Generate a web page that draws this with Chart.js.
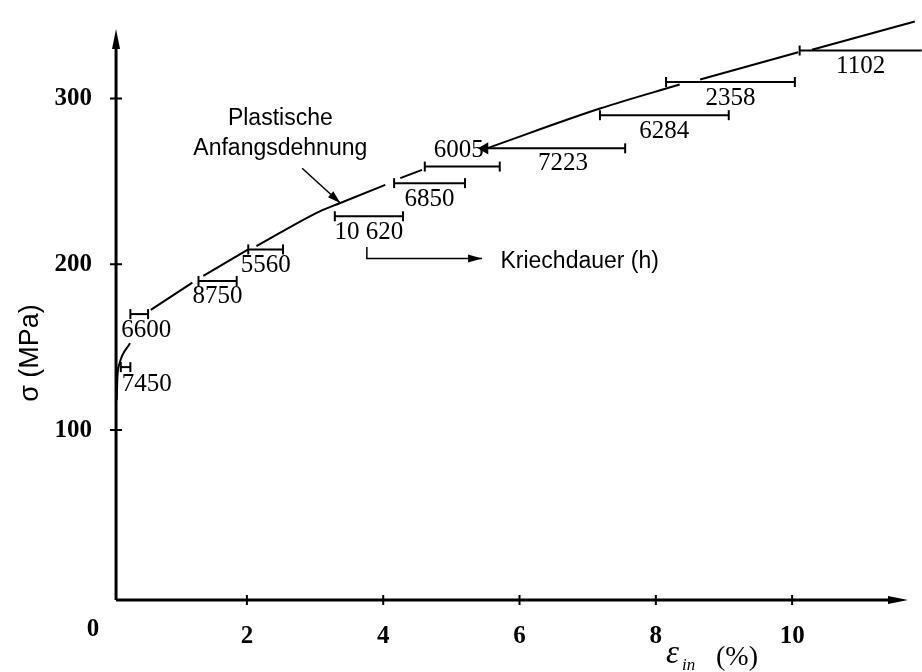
<!DOCTYPE html>
<html>
<head>
<meta charset="utf-8">
<script src="https://cdn.jsdelivr.net/npm/chart.js@4.4.1/dist/chart.umd.min.js"></script>
<style>
  html, body { margin: 0; padding: 0; background: #fff; }
</style>
</head>
<body>
<canvas id="creep-chart" width="922" height="672"></canvas>
<script>
// stress levels (MPa) and creep strain ranges (%)
const stress = [138, 170, 190, 209, 229, 249, 259, 270, 290, 310, 329];
const strainStart = [0.15, 0.29, 1.29, 2.02, 3.29, 4.16, 4.61, 5.49, 7.18, 8.15, 10.11];
const strainEnd = [0.29, 0.55, 1.85, 2.53, 4.29, 5.20, 5.71, 7.55, 9.07, 10.04, 11.9];
const creepHours = ['7450', '6600', '8750', '5560', '10 620', '6850', '6005', '7223', '6284', '2358', '1102'];

// initial plastic strain curve, null = break in the drawn line
const curveStrain = [0.09, 0.10, 0.13, 0.285, null, 0.59, 1.20, null, 1.36, 2.02, null,
  2.14, 3.07, 3.37, 4.03, null, 4.25, 4.57, null, 5.52, 7.18, 8.35, null, 8.65, 10.09, null, 10.29, 11.8];
const curveStress = [118, 132, 140, 152.5, null, 172.5, 189, null, 193, 209, null,
  211, 232, 237, 248, null, 252, 257, null, 270, 294, 308.5, null, 311.5, 328, null, 329.5, 346.5];

const xTicks = [2, 4, 6, 8, 10];
const yTicks = [100, 200, 300];

const serif = '"Liberation Serif", "Times New Roman", serif';
const sans = '"Liberation Sans", Arial, sans-serif';

let curveData = [];
for (let i = 0; i < curveStrain.length; i++) {
  if (curveStrain[i] === null) {
    curveData.push({x: curveStrain[i - 1], y: null});
  } else {
    curveData.push({x: curveStrain[i], y: curveStress[i]});
  }
}

let datasets = [{
  label: 'Plastische Anfangsdehnung',
  data: curveData,
  borderColor: '#000',
  borderWidth: 2,
  pointRadius: 0,
  spanGaps: false,
  cubicInterpolationMode: 'monotone',
  clip: false
}];

for (let i = 0; i < stress.length; i++) {
  let styles = ['line', 'line'];
  let rot = [90, 90];
  let rad = [5, 5];
  if (i == 7) { styles[0] = 'triangle'; rot[0] = -90; rad[0] = 5; }
  if (i == 10) { styles[1] = 'circle'; rad[1] = 2.5; }
  datasets.push({
    label: creepHours[i],
    data: [{x: strainStart[i], y: stress[i]}, {x: strainEnd[i], y: stress[i]}],
    borderColor: '#000',
    backgroundColor: '#000',
    borderWidth: 2,
    pointStyle: styles,
    rotation: rot,
    pointRadius: rad,
    pointBorderWidth: 2,
    pointBorderColor: '#000',
    pointBackgroundColor: '#000',
    clip: false
  });
}

// annotation positions in data units
const noteText = ['Plastische', 'Anfangsdehnung'];
const noteAt = {x: 2.49, y1: 284, y2: 266};
const noteArrow = [[2.81, 258], [3.37, 237]];
const durArrow = [[3.76, 210.5], [3.76, 203.5], [5.45, 203.5]];
const durText = {x: 5.72, y: 198, text: 'Kriechdauer (h)'};

function arrowHead(ctx, x1, y1, x2, y2, len, half) {
  const a = Math.atan2(y2 - y1, x2 - x1);
  ctx.beginPath();
  ctx.moveTo(x2, y2);
  ctx.lineTo(x2 - len * Math.cos(a) + half * Math.sin(a), y2 - len * Math.sin(a) - half * Math.cos(a));
  ctx.lineTo(x2 - len * Math.cos(a) - half * Math.sin(a), y2 - len * Math.sin(a) + half * Math.cos(a));
  ctx.closePath();
  ctx.fill();
}

const drawExtras = {
  id: 'drawExtras',
  afterDatasetsDraw(chart) {
    const {ctx, chartArea, scales: {x, y}} = chart;
    const x0 = x.getPixelForValue(0.08);
    const y0 = chartArea.bottom;
    ctx.save();
    ctx.strokeStyle = '#000';
    ctx.fillStyle = '#000';

    // axes with arrows
    ctx.lineWidth = 3;
    ctx.beginPath();
    ctx.moveTo(x0, y0);
    ctx.lineTo(x0, chartArea.top + 12);
    ctx.moveTo(x0, y0);
    ctx.lineTo(chartArea.right - 12, y0);
    ctx.stroke();
    arrowHead(ctx, x0, y0, x0, chartArea.top, 20, 4);
    arrowHead(ctx, x0, y0, chartArea.right, y0, 20, 4);

    // tick crosses
    ctx.lineWidth = 2;
    ctx.beginPath();
    yTicks.forEach(v => {
      const py = y.getPixelForValue(v);
      ctx.moveTo(x0 - 6, py);
      ctx.lineTo(x0 + 6, py);
    });
    xTicks.forEach(v => {
      const px = x.getPixelForValue(v);
      ctx.moveTo(px, y0 - 5);
      ctx.lineTo(px, y0 + 5);
    });
    ctx.stroke();

    // origin label
    ctx.font = 'bold 25px ' + serif;
    ctx.textAlign = 'center';
    ctx.textBaseline = 'middle';
    ctx.fillText('0', 93, y0 + 30);

    // creep duration labels
    ctx.font = '25px ' + serif;
    for (let i = 0; i < stress.length; i++) {
      const sx = x.getPixelForValue(strainStart[i]);
      const ex = x.getPixelForValue(strainEnd[i]);
      const py = y.getPixelForValue(stress[i]);
      if (i == 0) {
        ctx.textAlign = 'left';
        ctx.fillText(creepHours[i], sx + 1, py + 17);
      } else if (i == 1) {
        ctx.textAlign = 'left';
        ctx.fillText(creepHours[i], sx - 9, py + 16);
      } else if (i == 6) {
        ctx.textAlign = 'right';
        ctx.fillText(creepHours[i], x.getPixelForValue(strainStart[7]) - 1, py - 16);
      } else if (i == 7) {
        ctx.textAlign = 'center';
        ctx.fillText(creepHours[i], (sx + ex) / 2 + 8, py + 15);
      } else {
        ctx.textAlign = 'center';
        ctx.fillText(creepHours[i], (sx + ex) / 2, py + 16);
      }
    }

    // "Plastische Anfangsdehnung" note and arrow
    ctx.font = '23px ' + sans;
    ctx.textAlign = 'center';
    ctx.textBaseline = 'alphabetic';
    ctx.fillText(noteText[0], x.getPixelForValue(noteAt.x), y.getPixelForValue(noteAt.y1));
    ctx.fillText(noteText[1], x.getPixelForValue(noteAt.x), y.getPixelForValue(noteAt.y2));
    const ax1 = x.getPixelForValue(noteArrow[0][0]), ay1 = y.getPixelForValue(noteArrow[0][1]);
    const ax2 = x.getPixelForValue(noteArrow[1][0]), ay2 = y.getPixelForValue(noteArrow[1][1]);
    ctx.lineWidth = 1.5;
    ctx.beginPath();
    ctx.moveTo(ax1, ay1);
    ctx.lineTo(ax2, ay2);
    ctx.stroke();
    arrowHead(ctx, ax1, ay1, ax2, ay2, 13, 4);

    // Kriechdauer arrow
    ctx.beginPath();
    durArrow.forEach((p, k) => {
      const px = x.getPixelForValue(p[0]), py = y.getPixelForValue(p[1]);
      if (k == 0) ctx.moveTo(px, py); else ctx.lineTo(px, py);
    });
    ctx.stroke();
    const n = durArrow.length;
    arrowHead(ctx,
      x.getPixelForValue(durArrow[n - 2][0]), y.getPixelForValue(durArrow[n - 2][1]),
      x.getPixelForValue(durArrow[n - 1][0]), y.getPixelForValue(durArrow[n - 1][1]), 14, 4);
    ctx.textAlign = 'left';
    ctx.fillText(durText.text, x.getPixelForValue(durText.x), y.getPixelForValue(durText.y));

    // axis titles
    ctx.save();
    ctx.translate(38, 353);
    ctx.rotate(-Math.PI / 2);
    ctx.font = '27px ' + sans;
    ctx.textAlign = 'center';
    ctx.fillText('σ (MPa)', 0, 0);
    ctx.restore();

    ctx.textAlign = 'left';
    ctx.font = 'italic 33px ' + serif;
    ctx.fillText('ε', 666, 663);
    ctx.font = 'italic 17px ' + serif;
    ctx.fillText('in', 682, 670);
    ctx.font = '28px ' + serif;
    ctx.fillText('(%)', 716, 665);

    ctx.restore();
  }
};

new Chart(document.getElementById('creep-chart'), {
  type: 'line',
  data: { datasets: datasets },
  options: {
    responsive: false,
    animation: false,
    layout: { autoPadding: false, padding: { top: 20, right: 14, left: 0, bottom: 0 } },
    plugins: {
      legend: { display: false },
      tooltip: { enabled: false },
      title: { display: false }
    },
    scales: {
      x: {
        type: 'linear',
        min: 0.05,
        max: 11.7,
        grid: { display: false },
        border: { display: false },
        afterBuildTicks: s => { s.ticks = xTicks.map(v => ({value: v})); },
        afterFit: s => { s.height = 72; },
        ticks: {
          color: '#000',
          padding: 14,
          font: { family: serif, size: 25, weight: 'bold' }
        }
      },
      y: {
        type: 'linear',
        min: -2.5,
        max: 342,
        grid: { display: false },
        border: { display: false },
        afterBuildTicks: s => { s.ticks = yTicks.map(v => ({value: v})); },
        afterFit: s => { s.width = 114; },
        ticks: {
          color: '#000',
          padding: 14,
          font: { family: serif, size: 25, weight: 'bold' }
        }
      }
    }
  },
  plugins: [drawExtras]
});
</script>
</body>
</html>
